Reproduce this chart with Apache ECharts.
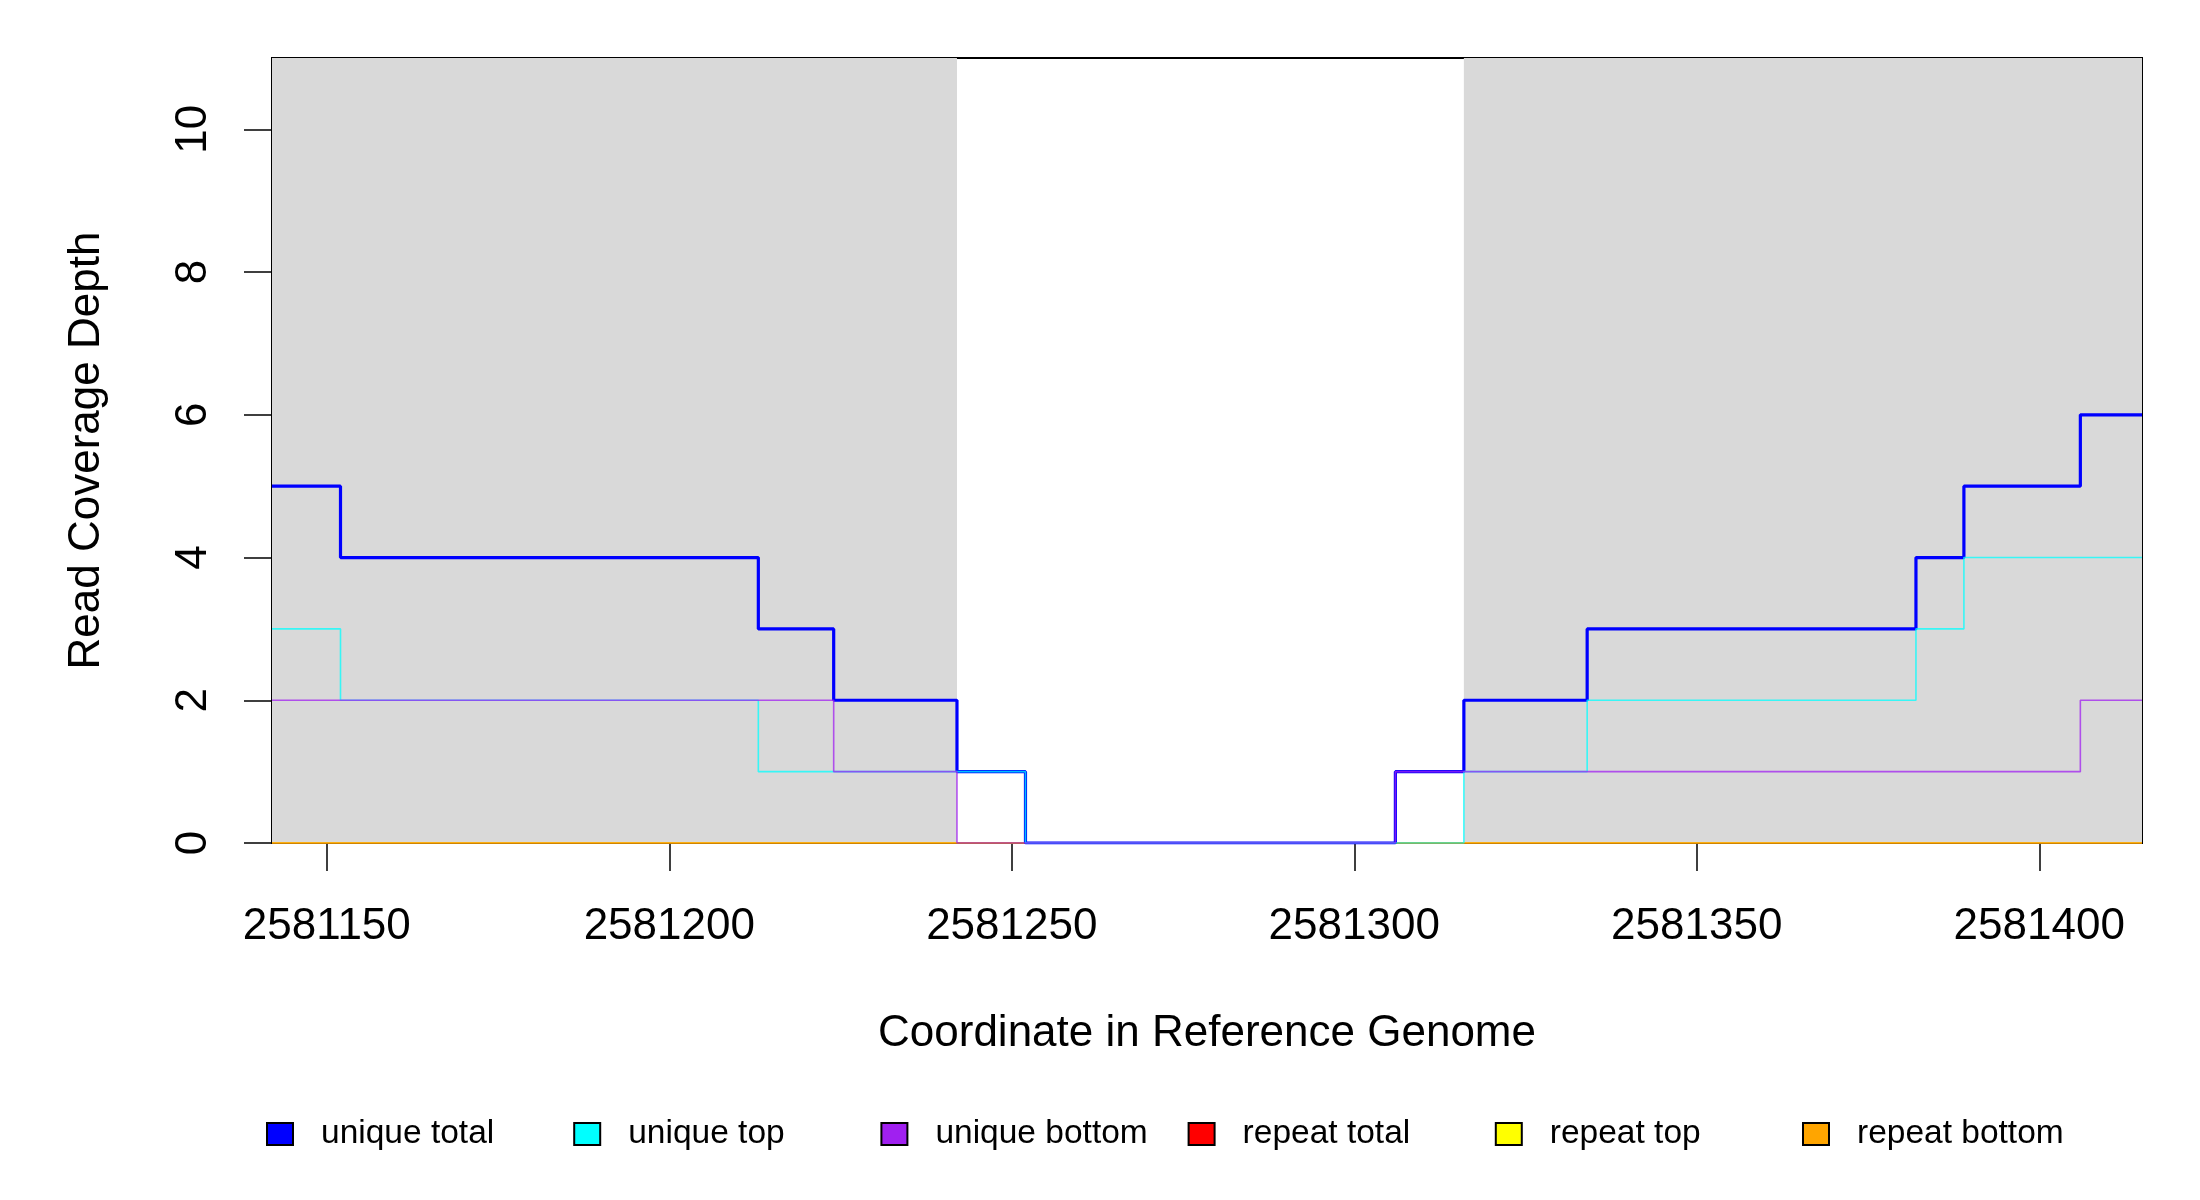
<!DOCTYPE html>
<html>
<head>
<meta charset="utf-8">
<title>Read coverage</title>
<script src="https://cdn.jsdelivr.net/npm/echarts@6/dist/echarts.min.js"></script>
<style>
    body { margin: 0; background: #fff; }
    #chart-coverage { width: 2200px; height: 1200px; }
</style>
</head>
<body>
<div id="chart-coverage"></div>
<script>
//coverage data, one value per segment start (step ends at next break)
var breaks = [2581142, 2581152, 2581213, 2581224, 2581242, 2581252, 2581306, 2581316, 2581334, 2581382, 2581389, 2581406, 2581415];
var uniqueTotal = [5, 4, 3, 2, 1, 0, 1, 2, 3, 4, 5, 6, 6];
var uniqueTop = [3, 2, 1, 1, 1, 0, 0, 1, 2, 3, 4, 4, 4];
var uniqueBottom = [2, 2, 2, 1, 0, 0, 1, 1, 1, 1, 1, 2, 2];
var repeatTotal = [0, 0, 0, 0, 0, 0, 0, 0, 0, 0, 0, 0, 0];
var repeatTop = [0, 0, 0, 0, 0, 0, 0, 0, 0, 0, 0, 0, 0];
var repeatBottom = [0, 0, 0, 0, 0, 0, 0, 0, 0, 0, 0, 0, 0];

//grey blocks
var shadedRegions = [[2581142, 2581242], [2581316, 2581415]];

var xTicks = [2581150, 2581200, 2581250, 2581300, 2581350, 2581400];
var yTicks = [0, 2, 4, 6, 8, 10];

var seriesNames = ['unique total', 'unique top', 'unique bottom', 'repeat total', 'repeat top', 'repeat bottom'];
var seriesColors = ['#0000ff', '#00ffff', '#a020f0', '#ff0000', '#ffff00', '#ffa500'];
var seriesValues = [uniqueTotal, uniqueTop, uniqueBottom, repeatTotal, repeatTop, repeatBottom];

var font = 'Liberation Sans, Arial, sans-serif';

let c_chart = echarts.init(document.getElementById('chart-coverage'));

function stepData(values) {
    return breaks.map(function (x, i) { return [x, values[i]]; });
}

//repeat lines first so the unique ones sit on top
var drawOrder = [3, 4, 5, 0, 1, 2];

var series = [{
    name: 'shade',
    type: 'line',
    data: [],
    markArea: {
        silent: true,
        itemStyle: { color: '#d9d9d9', opacity: 1 },
        data: shadedRegions.map(function (r) {
            return [{ xAxis: r[0] }, { xAxis: r[1] }];
        })
    }
}];

drawOrder.forEach(function (i) {
    series.push({
        name: seriesNames[i],
        type: 'line',
        step: 'end',
        showSymbol: false,
        animation: false,
        itemStyle: { color: seriesColors[i] },
        lineStyle: {
            color: seriesColors[i],
            width: i === 0 ? 3.2 : 1.6,
            opacity: i === 0 ? 1 : 0.75
        },
        data: stepData(seriesValues[i])
    });
});

//one legend per entry so the columns are evenly spaced like R
var legends = seriesNames.map(function (name, i) {
    return {
        data: [name],
        left: 266 + i * 307.2,
        top: 1117,
        padding: 0,
        icon: 'rect',
        itemWidth: 26,
        itemHeight: 22,
        itemStyle: { borderColor: '#000', borderWidth: 2 },
        textStyle: {
            fontFamily: font,
            fontSize: 33.5,
            color: '#000',
            padding: [0, 0, 0, 23]
        },
        selectedMode: false
    };
});

var c_option = {
    animation: false,
    backgroundColor: '#fff',
    grid: {
        left: 272,
        right: 58,
        top: 58,
        bottom: 357,
        show: true,
        borderColor: '#000',
        borderWidth: 2,
        backgroundColor: 'transparent'
    },
    legend: legends,
    xAxis: {
        type: 'value',
        min: 2581142,
        max: 2581415,
        name: 'Coordinate in Reference Genome',
        nameLocation: 'middle',
        nameGap: 169,
        nameTextStyle: { fontFamily: font, fontSize: 44, color: '#000' },
        axisLine: { show: false },
        splitLine: { show: false },
        axisTick: {
            show: true,
            length: 28,
            customValues: xTicks,
            lineStyle: { color: '#000', width: 1.5 }
        },
        axisLabel: {
            customValues: xTicks,
            margin: 62,
            fontFamily: font,
            fontSize: 44,
            color: '#000',
            formatter: function (v) { return String(v); }
        }
    },
    yAxis: {
        type: 'value',
        min: 0,
        max: 11,
        name: 'Read Coverage Depth',
        nameLocation: 'middle',
        nameGap: 163,
        nameTextStyle: { fontFamily: font, fontSize: 44, color: '#000' },
        axisLine: { show: false },
        splitLine: { show: false },
        axisTick: {
            show: true,
            length: 28,
            customValues: yTicks,
            lineStyle: { color: '#000', width: 1.5 }
        },
        axisLabel: {
            customValues: yTicks,
            rotate: 90,
            margin: 56,
            fontFamily: font,
            fontSize: 44,
            color: '#000'
        }
    },
    series: series
};

c_chart.setOption(c_option);
</script>
</body>
</html>
